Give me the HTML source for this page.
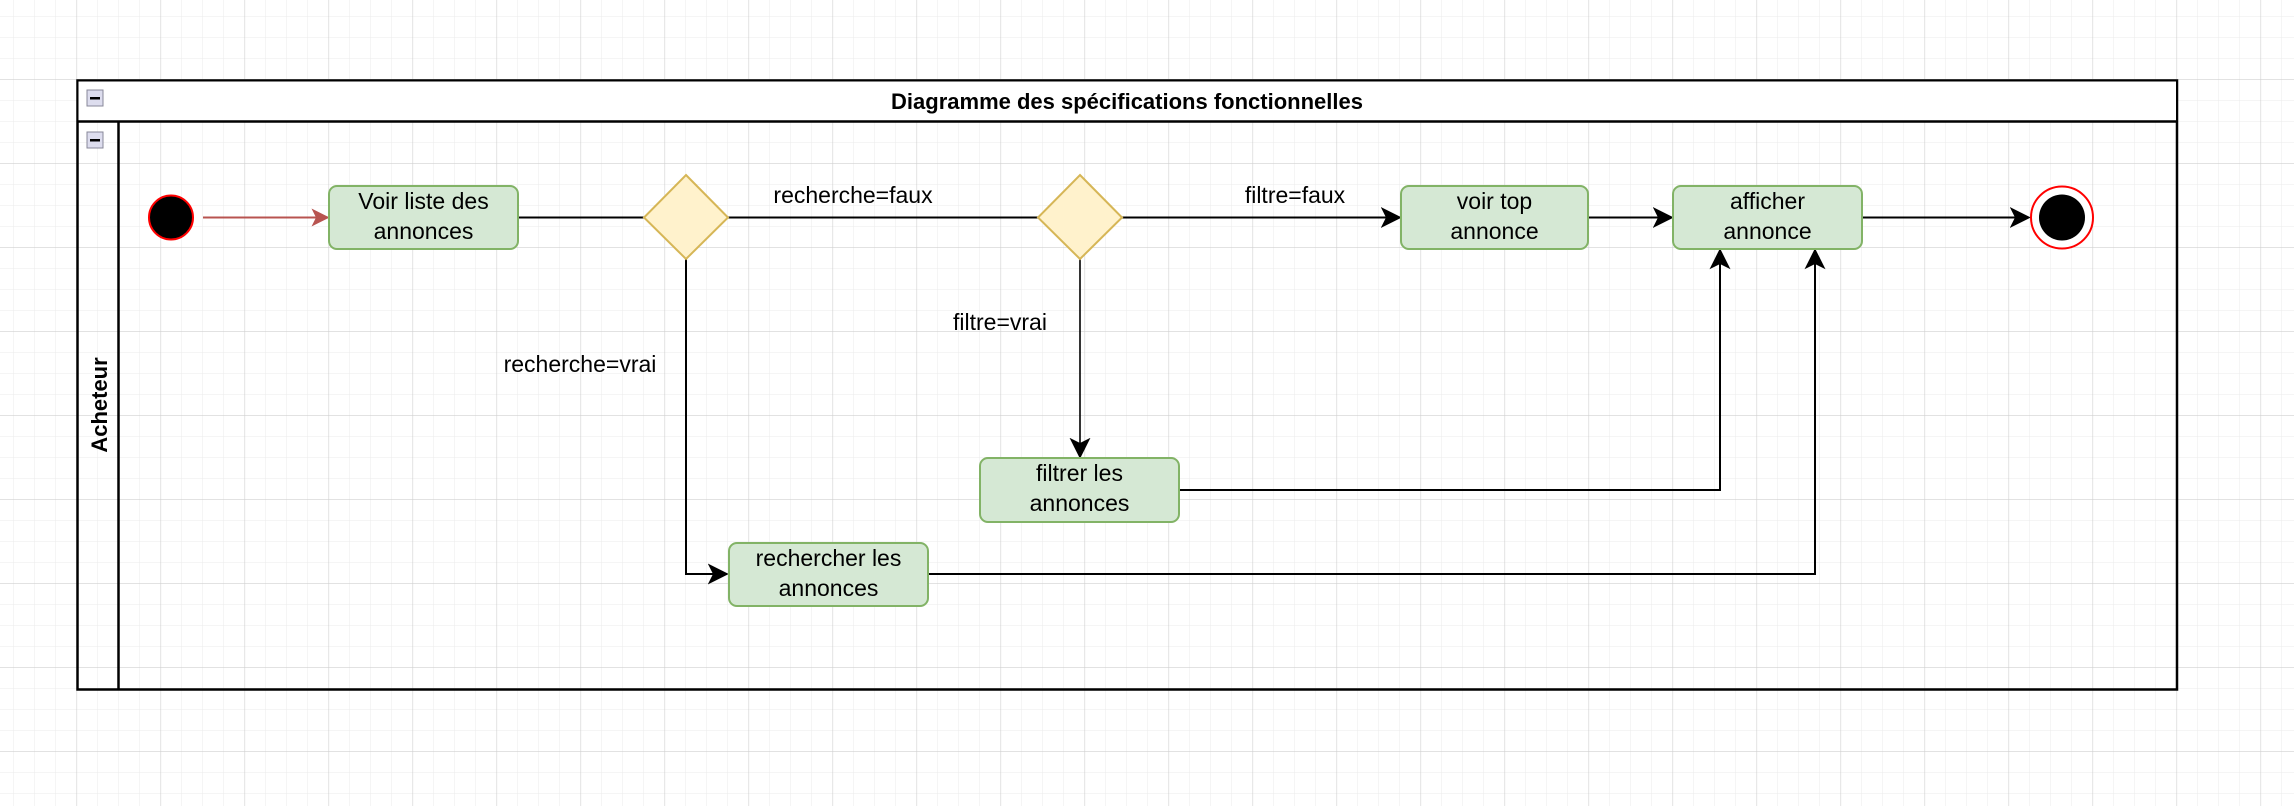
<!DOCTYPE html>
<html><head><meta charset="utf-8"><style>
html,body{margin:0;padding:0;background:#fff;}
svg{display:block;font-family:"Liberation Sans",Arial,sans-serif;}
</style></head><body>
<svg width="2294" height="806" viewBox="0 0 2294 806" xmlns="http://www.w3.org/2000/svg">
<defs>
<pattern id="minor" x="76.5" y="79" width="21" height="21" patternUnits="userSpaceOnUse">
<path d="M0 0H21M0 0V21" stroke="#ebebeb" stroke-width="1" fill="none"/>
</pattern>
<pattern id="major" x="76.5" y="79" width="84" height="84" patternUnits="userSpaceOnUse">
<path d="M0 0H84M0 0V84" stroke="#d0d0d0" stroke-width="1.2" fill="none"/>
</pattern>
<marker id="ar" viewBox="0 0 12 12" refX="11" refY="6" markerWidth="18" markerHeight="18" markerUnits="userSpaceOnUse" orient="auto">
<path d="M0 0L12 6L0 12L3 6Z" fill="#b85450"/>
</marker>
<marker id="ab2" viewBox="0 0 12 12" refX="11" refY="6" markerWidth="21" markerHeight="21" markerUnits="userSpaceOnUse" orient="auto">
<path d="M0 0L12 6L0 12L3 6Z" fill="#000"/>
</marker>
</defs>
<rect width="2294" height="806" fill="url(#minor)"/>
<rect width="2294" height="806" fill="url(#major)"/>

<!-- frame -->
<rect x="77.5" y="80.5" width="2099.5" height="609" fill="none" stroke="#000" stroke-width="2.5"/>
<rect x="78.5" y="81.5" width="2097.5" height="39.5" fill="#fff"/>
<line x1="77.5" y1="121.5" x2="2177" y2="121.5" stroke="#000" stroke-width="2.5"/>
<line x1="118.5" y1="121.5" x2="118.5" y2="689.5" stroke="#000" stroke-width="2.5"/>
<text x="1127" y="109" text-anchor="middle" font-size="22" font-weight="bold">Diagramme des spécifications fonctionnelles</text>
<text transform="translate(107,405) rotate(-90)" text-anchor="middle" font-size="22" font-weight="bold">Acheteur</text>
<rect x="87" y="90" width="16" height="16" fill="#dde" stroke="#889" stroke-width="1"/>
<rect x="90" y="97" width="10" height="2.5" fill="#000"/>
<rect x="87" y="132" width="16" height="16" fill="#dde" stroke="#889" stroke-width="1"/>
<rect x="90" y="139" width="10" height="2.5" fill="#000"/>

<!-- edges -->
<line x1="203" y1="217.5" x2="328" y2="217.5" stroke="#b85450" stroke-width="2" marker-end="url(#ar)"/>
<line x1="518" y1="217.5" x2="644" y2="217.5" stroke="#000" stroke-width="2"/>
<line x1="728" y1="217.5" x2="1038" y2="217.5" stroke="#000" stroke-width="2"/>
<line x1="1122" y1="217.5" x2="1400" y2="217.5" stroke="#000" stroke-width="2" marker-end="url(#ab2)"/>
<line x1="1588" y1="217.5" x2="1672" y2="217.5" stroke="#000" stroke-width="2" marker-end="url(#ab2)"/>
<line x1="1862" y1="217.5" x2="2029" y2="217.5" stroke="#000" stroke-width="2" marker-end="url(#ab2)"/>
<line x1="1080" y1="259" x2="1080" y2="457" stroke="#000" stroke-width="1.6" marker-end="url(#ab2)"/>
<polyline points="686,259 686,574 727,574" fill="none" stroke="#000" stroke-width="2" marker-end="url(#ab2)"/>
<polyline points="1179,490 1720,490 1720,250" fill="none" stroke="#000" stroke-width="2" marker-end="url(#ab2)"/>
<polyline points="928,574 1815,574 1815,250" fill="none" stroke="#000" stroke-width="2" marker-end="url(#ab2)"/>

<g font-size="23" text-anchor="middle">
<text x="853" y="203">recherche=faux</text>
<text x="1295" y="203">filtre=faux</text>
<text x="1000" y="330">filtre=vrai</text>
<text x="580" y="372">recherche=vrai</text>
</g>

<circle cx="171" cy="217.5" r="22" fill="#000" stroke="#ff0000" stroke-width="2"/>
<circle cx="2062" cy="217.5" r="31" fill="#fff" stroke="#ff0000" stroke-width="2"/>
<circle cx="2062" cy="217.5" r="23" fill="#000"/>

<polygon points="686,175 728,217.5 686,259 644,217.5" fill="#fff2cc" stroke="#d6b656" stroke-width="2"/>
<polygon points="1080,175 1122,217.5 1080,259 1038,217.5" fill="#fff2cc" stroke="#d6b656" stroke-width="2"/>

<g fill="#d5e8d4" stroke="#82b366" stroke-width="2">
<rect x="329" y="186" width="189" height="63" rx="8"/>
<rect x="1401" y="186" width="187" height="63" rx="8"/>
<rect x="1673" y="186" width="189" height="63" rx="8"/>
<rect x="980" y="458" width="199" height="64" rx="8"/>
<rect x="729" y="543" width="199" height="63" rx="8"/>
</g>
<g font-size="23" text-anchor="middle">
<text x="423.5" y="209">Voir liste des</text>
<text x="423.5" y="239">annonces</text>
<text x="1494.5" y="209">voir top</text>
<text x="1494.5" y="239">annonce</text>
<text x="1767.5" y="209">afficher</text>
<text x="1767.5" y="239">annonce</text>
<text x="1079.5" y="481">filtrer les</text>
<text x="1079.5" y="511">annonces</text>
<text x="828.5" y="566">rechercher les</text>
<text x="828.5" y="596">annonces</text>
</g>
</svg>
</body></html>
